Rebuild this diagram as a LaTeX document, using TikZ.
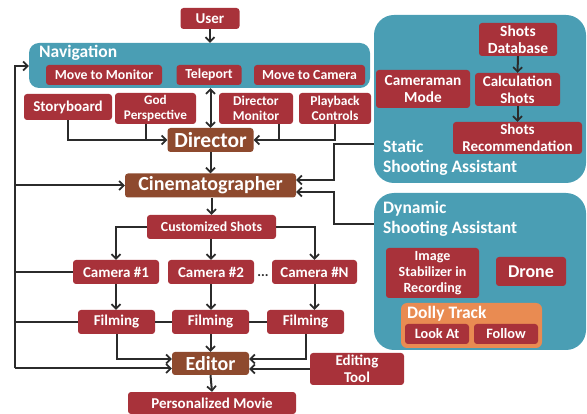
\documentclass[tikz,border=0pt]{standalone}
\usepackage{fontspec}
\setmainfont{Carlito}
\usetikzlibrary{arrows.meta,calc}
\definecolor{boxred}{HTML}{A8323A}
\definecolor{boxbrown}{HTML}{8E4A2E}
\definecolor{teal}{HTML}{4A9EB4}
\definecolor{dolly}{HTML}{E98B52}
\definecolor{linecol}{HTML}{2B2B2B}
\tikzset{
  rbox/.style={fill=boxred, rounded corners=3pt, text=white, align=center, inner sep=0pt,
    font=\fontsize{15}{16.5}\selectfont\bfseries},
  fs/.style={font=\fontsize{#1}{\dimexpr #1pt*112/100\relax}\selectfont\bfseries},
  bbox/.style={fill=boxbrown, rounded corners=3pt, text=white, align=center, inner sep=0pt,
    font=\fontsize{20}{22}\selectfont\bfseries},
  container/.style={fill=teal, rounded corners=20pt, inner sep=0pt},
  heading/.style={text=white, align=left, inner sep=0pt, anchor=west,
    font=\fontsize{17.5}{20}\selectfont\bfseries},
  conn/.style={draw=linecol, line width=2pt},
  arr/.style={conn, -{Straight Barb[length=4.5pt,width=9pt,line width=1.7pt]}},
  darr/.style={conn, {Straight Barb[length=4.5pt,width=9pt,line width=1.7pt]}-{Straight Barb[length=4.5pt,width=9pt,line width=1.7pt]}},
}
\begin{document}
\begin{tikzpicture}[x=1pt,y=-1pt]
\useasboundingbox (0,0) rectangle (587,414);
% containers
\node[container, rounded corners=10pt, minimum width=341pt, minimum height=45pt] (nav) at (199.5,65.5) {};
\node[heading] (navlbl) at (39,53) {Navigation};
\node[container, minimum width=212pt, minimum height=168pt] (static) at (480,99) {};
\node[heading] (staticlbl) at (383,158) {Static\\Shooting Assistant};
\node[container, minimum width=212pt, minimum height=157pt] (dyn) at (480,271.5) {};
\node[heading] (dynlbl) at (383,218.5) {Dynamic\\Shooting Assistant};
\node[fill=dolly, rounded corners=6pt, minimum width=141pt, minimum height=45pt, inner sep=0pt] (dollybox) at (471.5,325.5) {};
\node[heading] (dollylbl) at (407,314) {Dolly Track};

% top
\node[rbox, minimum width=59pt, minimum height=21pt] (user) at (210,18.5) {User};
\node[rbox, fs=13.8, minimum width=116pt, minimum height=20pt] (mtm) at (104,75) {Move to Monitor};
\node[rbox, fs=13.8, minimum width=65pt, minimum height=20pt] (tele) at (209,75) {Teleport};
\node[rbox, fs=13.8, minimum width=111pt, minimum height=20pt] (mtc) at (309.5,75) {Move to Camera};

\node[rbox, minimum width=88pt, minimum height=26pt] (story) at (68,107) {Storyboard};
\node[rbox, fs=13.2, minimum width=81pt, minimum height=31pt] (godp) at (155.5,108.5) {God\\Perspective};
\node[rbox, fs=13.5, minimum width=74pt, minimum height=31pt] (dmon) at (256,108.5) {Director\\Monitor};
\node[rbox, fs=13.5, minimum width=72pt, minimum height=31pt] (play) at (335,108.5) {Playback\\Controls};

\node[bbox, fs=21.5, minimum width=86pt, minimum height=24pt] (dir) at (210.5,140) {Director};
\node[bbox, minimum width=171pt, minimum height=24pt] (cine) at (210.5,185.5) {Cinematographer};
\node[rbox, fs=13.8, minimum width=129pt, minimum height=24pt] (cs) at (211.5,227) {Customized Shots};

\node[rbox, minimum width=86pt, minimum height=24pt] (cam1) at (116,272) {Camera \#1};
\node[rbox, minimum width=86pt, minimum height=24pt] (cam2) at (211,272) {Camera \#2};
\node[rbox, minimum width=85pt, minimum height=24pt] (camN) at (314.5,272) {Camera \#N};
\node[inner sep=0pt, font=\fontsize{14}{15}\selectfont\bfseries, text=linecol] (dots) at (263,276) {...};

\node[rbox, minimum width=77pt, minimum height=24pt] (film1) at (116.5,322) {Filming};
\node[rbox, minimum width=77pt, minimum height=24pt] (film2) at (210.5,322) {Filming};
\node[rbox, minimum width=77pt, minimum height=24pt] (filmN) at (305.5,322) {Filming};

\node[bbox, minimum width=77pt, minimum height=23pt] (editor) at (210.5,363.5) {Editor};
\node[rbox, minimum width=94pt, minimum height=32pt] (etool) at (357,369) {Editing\\Tool};
\node[rbox, minimum width=168pt, minimum height=22pt] (movie) at (212,403) {Personalized Movie};

% right side
\node[rbox, fs=15.5, minimum width=78pt, minimum height=33pt] (sdb) at (518,39.5) {Shots\\Database};
\node[rbox, fs=15.3, minimum width=94pt, minimum height=38pt] (cam) at (423,89) {Cameraman\\Mode};
\node[rbox, fs=15, minimum width=85pt, minimum height=33pt] (calc) at (517.5,89.5) {Calculation\\Shots};
\node[rbox, fs=15, minimum width=129pt, minimum height=32pt] (srec) at (517.5,138) {Shots\\Recommendation};

\node[rbox, fs=14, minimum width=93pt, minimum height=50pt] (stab) at (432.5,273) {Image\\Stabilizer in\\Recording};
\node[rbox, fs=18, minimum width=70pt, minimum height=29pt] (drone) at (531,271.5) {Drone};
\node[rbox, fs=14.3, minimum width=64pt, minimum height=20pt] (look) at (437,334) {Look At};
\node[rbox, fs=14.3, minimum width=64pt, minimum height=20pt] (follow) at (506,334) {Follow};

% connectors
\draw[arr] (user.south) -- (user.south |- nav.north);
\draw[darr] (dir.north) -- (dir.north |- nav.south);
\draw[arr] (story.south) |- (dir.west);
\draw[conn] ([xshift=-10pt]godp.south) -- ([xshift=-10pt]godp.south |- dir.west);
\draw[arr] (play.south) |- (dir.east);
\draw[conn] ([xshift=23pt]dmon.south) -- ([xshift=23pt]dmon.south |- dir.east);
\draw[arr] (dir.south) -- (cine.north);

\draw[arr] ([yshift=-45pt]static.west) -- ++(-40pt,0) |- ([yshift=5.5pt]cine.east);
\draw[arr] ([yshift=47.5pt]dyn.west) -- ++(-40pt,0) |- ([yshift=-6.5pt]cine.east);
\draw[arr] (sdb.south) -- (calc.north);
\draw[arr] (calc.south) -- (srec.north);

\draw[arr] (cine.south -| cs.north) -- (cs.north);
\draw[arr] (cs.west) -| (cam1.north);
\draw[arr] (cs.south -| cam2.north) -- (cam2.north);
\draw[arr] (cs.east) -| (camN.north);

\draw[arr] (cam1.south) -- (film1.north -| cam1.south);
\draw[arr] (cam2.south) -- (film2.north -| cam2.south);
\draw[arr] (camN.south) -- (filmN.north -| camN.south);
\draw[conn] (film1.east) -- (film2.west);
\draw[conn] (film2.east) -- (filmN.west);

\draw[arr] (film1.south) |- ([yshift=4.5pt]editor.west);
\draw[arr] (film2.south) -- (editor.north);
\draw[arr] (filmN.south) |- ([yshift=4.5pt]editor.east);
\draw[arr] (etool.west) -- (etool.west -| editor.east);
\draw[arr] (editor.south) -- (movie.north);

% left loop
\coordinate (lb) at (14.5,368.5);
\coordinate (lt) at (14.5,66);
\draw[arr] (lb) -- (lt) -- (lt -| nav.west);
\draw[arr] (lb) -- (lb -| editor.west);
\draw[arr] (lt |- cine.west) -- (cine.west);
\draw[conn] (cam1.west) -- (cam1.west -| lt);
\draw[conn] (film1.west) -- (film1.west -| lt);
\end{tikzpicture}
\end{document}
